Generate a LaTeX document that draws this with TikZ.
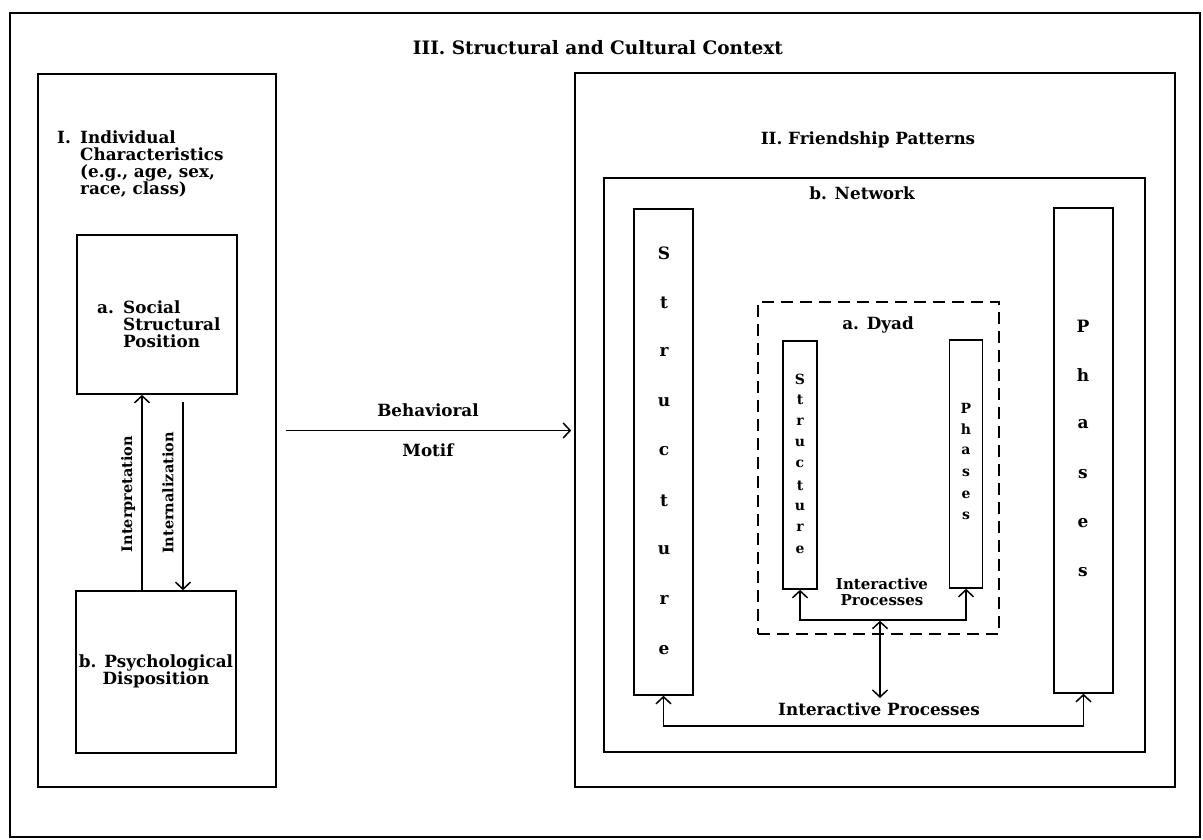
\documentclass[tikz,border=0pt]{standalone}
\usepackage{fontspec}
\setmainfont{DejaVu Serif}
\usetikzlibrary{arrows.meta}
\begin{document}
\begin{tikzpicture}[x=1pt,y=-1pt,
  box/.style={draw, line width=1.6pt, inner sep=0pt},
  dbox/.style={draw, line width=1.6pt, inner sep=0pt, dash pattern=on 12pt off 7pt},
  arr/.style={line width=1.5pt, -{Straight Barb[length=7pt,width=15pt,line width=1.5pt]}},
  darr/.style={line width=1.5pt, {Straight Barb[length=7pt,width=15pt,line width=1.5pt]}-{Straight Barb[length=7pt,width=15pt,line width=1.5pt]}},
  ttl/.style={font=\bfseries\fontsize{18.5}{21}\selectfont, inner sep=0pt},
  lab/.style={font=\bfseries\fontsize{16.8}{17}\selectfont, inner sep=0pt},
  sml/.style={font=\bfseries\fontsize{14.5}{17}\selectfont, inner sep=0pt},
  big/.style={font=\bfseries\fontsize{17}{17}\selectfont, inner sep=0pt},
  tiny/.style={font=\bfseries\fontsize{14}{16}\selectfont, inner sep=0pt},
  ipsm/.style={font=\bfseries\fontsize{15}{17}\selectfont, inner sep=0pt}]
\useasboundingbox (0,0) rectangle (1203,840);
\fill[white] (0,0) rectangle (1203,840);
% frames
\node[box, minimum width=1190pt, minimum height=824pt] (outer) at (605,425) {};
\node[ttl] (title) at (598,48) {III. Structural and Cultural Context};
% Box I
\node[box, minimum width=238pt, minimum height=713pt] (boxI) at (157,430.5) {};
\node[lab, anchor=north west, align=left] (ititle) at (57,131)
  {\makebox[23pt][l]{I.}Individual\\\hspace*{23pt}Characteristics\\\hspace*{23pt}(e.g., age, sex,\\\hspace*{23pt}race, class)};
\node[box, minimum width=160pt, minimum height=159pt] (soc) at (157,314.5) {};
\node[lab, anchor=north west, align=left] (soctext) at (97,301)
  {\makebox[26pt][l]{a.}Social\\\hspace*{26pt}Structural\\\hspace*{26pt}Position};
\node[box, minimum width=160pt, minimum height=162pt] (psy) at (156,672) {};
\node[lab, align=center] (psytext) at (156,671) {b. Psychological\\Disposition};
\draw[arr] ([xshift=-14pt]psy.north) -- ([xshift=-15pt]soc.south);
\draw[arr, shorten <=7pt] ([xshift=26pt]soc.south) -- ([xshift=27pt]psy.north);
\node[sml, rotate=90] (interp) at (128,494) {Interpretation};
\node[sml, rotate=90] (intern) at (168,493) {Internalization};
% Box II
\node[box, minimum width=600pt, minimum height=714pt] (boxII) at (875,430) {};
\node[lab] (fp) at (868,140) {II. Friendship Patterns};
\draw[arr, shorten <=9pt, shorten >=3pt] (boxI.east) -- (boxII.west |- boxI.east);
\node[lab] (beh) at (428,410) {Behavioral};
\node[lab] (mot) at (428,450) {Motif};
% Network
\node[box, minimum width=541pt, minimum height=574pt] (net) at (874.5,465) {};
\node[lab] (nettext) at (862,193) {b. Network};
\node[box, minimum width=59pt, minimum height=486pt] (bigS) at (663.5,452) {};
\node[box, minimum width=59pt, minimum height=485pt] (bigP) at (1083.5,450.5) {};
\foreach \l [count=\i from 0] in {S,t,r,u,c,t,u,r,e}
  \node[big] (bs\i) at (664,253+49.6*\i) {\l};
\foreach \l [count=\i from 0] in {P,h,a,s,e,s}
  \node[big] (bp\i) at (1083,326+49.2*\i) {\l};
% Dyad
\node[dbox, minimum width=241pt, minimum height=332pt] (dyad) at (878.5,468) {};
\node[lab] (dyadtext) at (878,325) {a. Dyad};
\node[box, minimum width=34pt, minimum height=248pt] (smS) at (800,465) {};
\node[box, minimum width=33pt, minimum height=248pt] (smP) at (966,464) {};
\foreach \l [count=\i from 0] in {S,t,r,u,c,t,u,r,e}
  \node[tiny] (ss\i) at (800,379+21.3*\i) {\l};
\foreach \l [count=\i from 0] in {P,h,a,s,e,s}
  \node[tiny] (sp\i) at (966,408+21.6*\i) {\l};
\coordinate (j1) at (800,620);
\coordinate (j2) at (966,620);
\draw[darr] (smS.south) -- (j1) -- (j2) -- (smP.south);
\node[ipsm, align=center] (ip1) at (882,592) {Interactive\\[-1pt]Processes};
\coordinate (d1) at (880,620.7);
\coordinate (d2) at (880,698);
\draw[darr] (d1) -- (d2);
\coordinate (h1) at (663.5,726);
\coordinate (h2) at (1083.5,726);
\draw[darr] (bigS.south) -- (h1) -- (h2) -- (bigP.south);
\node[lab] (ip2) at (879,709) {Interactive Processes};
\end{tikzpicture}
\end{document}
